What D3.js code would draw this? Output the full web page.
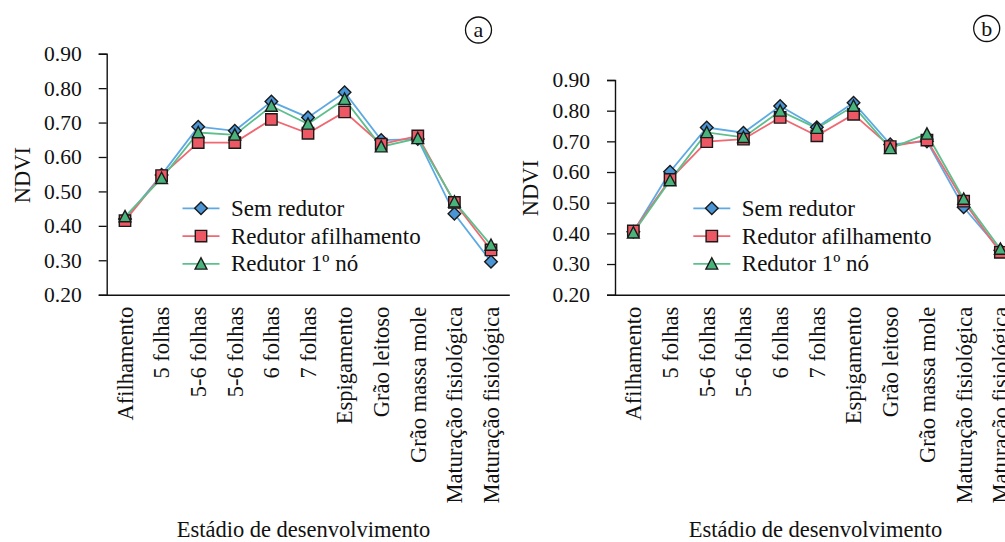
<!DOCTYPE html>
<html>
<head>
<meta charset="utf-8">
<script src="https://cdn.jsdelivr.net/npm/d3@7"></script>
</head>
<body style="margin:0">
<svg id="chart" width="1005" height="542"></svg>
<script>
// ---- data ----
const categories = ["Afilhamento", "5 folhas", "5-6 folhas", "5-6 folhas ", "6 folhas", "7 folhas",
  "Espigamento", "Grão leitoso", "Grão massa mole", "Maturação fisiológica", "Maturação fisiológica "];
const seriesNames = ["Sem redutor", "Redutor afilhamento", "Redutor 1º nó"];
const yTicks = [0.20, 0.30, 0.40, 0.50, 0.60, 0.70, 0.80, 0.90];

const semRedutorA = [0.420, 0.548, 0.688, 0.676, 0.761, 0.715, 0.788, 0.649, 0.652, 0.435, 0.296];
const afilhamentoA = [0.415, 0.546, 0.642, 0.642, 0.709, 0.669, 0.731, 0.637, 0.661, 0.468, 0.330];
const primeiroNoA  = [0.427, 0.538, 0.671, 0.664, 0.748, 0.696, 0.768, 0.630, 0.654, 0.470, 0.344];

const semRedutorB = [0.405, 0.601, 0.745, 0.728, 0.815, 0.746, 0.826, 0.690, 0.700, 0.485, 0.345];
const afilhamentoB = [0.408, 0.576, 0.699, 0.707, 0.778, 0.718, 0.788, 0.683, 0.704, 0.505, 0.338];
const primeiroNoB  = [0.402, 0.572, 0.729, 0.713, 0.799, 0.743, 0.815, 0.677, 0.724, 0.512, 0.349];

const xTitle = "Estádio de desenvolvimento";
const yTitle = "NDVI";

// ---- styles ----
const FONT = '"Liberation Serif"';
const lineColors = ["#5ea9e3", "#ef6872", "#5cbf8c"];
const fillColors = ["#4a95d5", "#ee5864", "#48b47c"];
const markerStroke = "#1a1a1a";

// custom marker shapes (geometry in px, size argument ignored)
const diamondType = { draw(ctx) { const r = 6.3; ctx.moveTo(0, -r); ctx.lineTo(r, 0); ctx.lineTo(0, r); ctx.lineTo(-r, 0); ctx.closePath(); } };
const squareType  = { draw(ctx) { const h = 5.7; ctx.moveTo(-h, -h); ctx.lineTo(h, -h); ctx.lineTo(h, h); ctx.lineTo(-h, h); ctx.closePath(); } };
const triangleType = { draw(ctx) { const w = 5.9, t = 6.1; ctx.moveTo(0, -t); ctx.lineTo(w, t * 0.85); ctx.lineTo(-w, t * 0.85); ctx.closePath(); } };
const symbolTypes = [diamondType, squareType, triangleType];

const svg = d3.select("#chart");

function txt(sel, size) {
  return sel.attr("font-family", FONT).attr("font-size", size).attr("fill", "#111");
}

function drawPanel(opts) {
  const g = svg.append("g");
  const x = d3.scaleBand().domain(categories).range([opts.left, opts.left + opts.band * categories.length]);
  const y = d3.scaleLinear().domain([0.2, 0.9]).range([opts.bottom, opts.top]);

  // y axis
  const yAxis = d3.axisLeft(y).tickValues(yTicks).tickFormat(d3.format(".2f")).tickSize(8).tickPadding(17);
  const ya = g.append("g").attr("transform", `translate(${opts.left},0)`).call(yAxis);
  ya.attr("font-family", null).attr("font-size", null);
  ya.select(".domain").attr("stroke", "#111").attr("stroke-width", 1.4);
  ya.selectAll(".tick line").attr("stroke", "#111").attr("stroke-width", 1.3);
  txt(ya.selectAll(".tick text"), 21.5);

  // x axis
  const xAxis = d3.axisBottom(x).tickSize(0).tickPadding(0);
  const xa = g.append("g").attr("transform", `translate(0,${opts.bottom})`).call(xAxis);
  xa.attr("font-family", null).attr("font-size", null);
  xa.select(".domain").attr("stroke", "#111").attr("stroke-width", 1.4);
  txt(xa.selectAll(".tick text"), 22.5)
    .attr("text-anchor", "end")
    .attr("transform", "rotate(-90)")
    .attr("x", -12).attr("y", 0).attr("dy", "0.35em")
    .text(d => d.trim());

  // titles
  txt(g.append("text"), 22.5).attr("x", opts.xTitleX).attr("y", 537).attr("text-anchor", "middle").text(xTitle);
  txt(g.append("text"), 22.5).attr("transform", `translate(${opts.yTitleX},${opts.yTitleY}) rotate(-90)`)
    .attr("text-anchor", "middle").attr("dy", "0.35em").text(yTitle);

  // panel letter
  g.append("circle").attr("cx", opts.letterX).attr("cy", opts.letterY).attr("r", 13)
    .attr("fill", "none").attr("stroke", "#111").attr("stroke-width", 1.3);
  txt(g.append("text"), 22).attr("x", opts.letterX).attr("y", opts.letterY).attr("dy", "0.33em")
    .attr("text-anchor", "middle").text(opts.letter);

  const cx = (d, i) => x(categories[i]) + x.bandwidth() / 2;
  const line = d3.line().x((d, i) => cx(d, i)).y(d => y(d));

  opts.series.forEach((vals, s) => {
    g.append("path").datum(vals).attr("d", line)
      .attr("fill", "none").attr("stroke", lineColors[s]).attr("stroke-width", 1.8);
  });

  opts.series.forEach((vals, s) => {
    const sym = d3.symbol().type(symbolTypes[s]);
    g.selectAll(null).data(vals).enter().append("path")
      .attr("d", sym)
      .attr("transform", (d, i) => `translate(${cx(d, i)},${y(d)})`)
      .attr("fill", fillColors[s]).attr("stroke", markerStroke).attr("stroke-width", 1.4)
      .attr("stroke-linejoin", "miter");
  });

  // legend
  seriesNames.forEach((name, s) => {
    const ly = opts.legendY + s * 27.8;
    g.append("line").attr("x1", opts.legendX).attr("x2", opts.legendX + 37)
      .attr("y1", ly).attr("y2", ly).attr("stroke", lineColors[s]).attr("stroke-width", 1.8);
    const sym = d3.symbol().type(symbolTypes[s]);
    g.append("path").attr("d", sym)
      .attr("transform", `translate(${opts.legendX + 18.5},${ly})`)
      .attr("fill", fillColors[s]).attr("stroke", markerStroke).attr("stroke-width", 1.4);
    txt(g.append("text"), 23).attr("x", opts.legendX + 48.5).attr("y", ly).attr("dy", "0.33em").text(name);
  });
}

drawPanel({
  left: 106.7, band: 36.6, top: 53.7, bottom: 294.7,
  series: [semRedutorA, afilhamentoA, primeiroNoA],
  xTitleX: 303.5, yTitleX: 22, yTitleY: 175,
  letter: "a", letterX: 478.5, letterY: 30,
  legendX: 182.5, legendY: 208.3
});

drawPanel({
  left: 615, band: 36.7, top: 80, bottom: 294.7,
  series: [semRedutorB, afilhamentoB, primeiroNoB],
  xTitleX: 815.5, yTitleX: 530, yTitleY: 188,
  letter: "b", letterX: 986.7, letterY: 28.5,
  legendX: 693.3, legendY: 208.3
});
</script>
</body>
</html>
